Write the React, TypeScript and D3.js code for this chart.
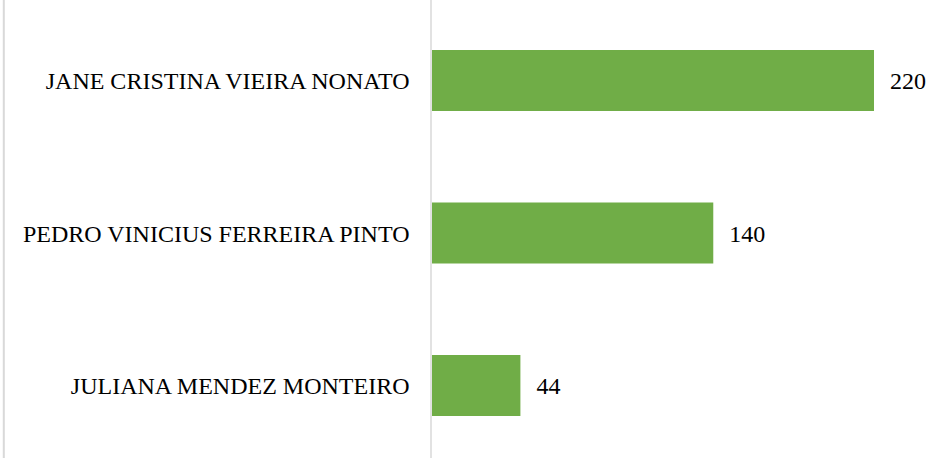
import React from "react";
import * as d3 from "d3";

const categories = [
  "JANE CRISTINA VIEIRA NONATO",
  "PEDRO VINICIUS FERREIRA PINTO",
  "JULIANA MENDEZ MONTEIRO",
];
const values = [220, 140, 44];

const W = 951;
const H = 458;

export default function App() {
  const x = d3.scaleLinear().domain([0, 220]).range([432, 874]);
  const y = d3
    .scaleBand<string>()
    .domain(categories)
    .range([4.25, 461.75])
    .paddingInner(0.6)
    .paddingOuter(0.3);
  const font = '"Liberation Serif", "DejaVu Serif", serif';
  const fs = 24;
  return (
    <svg
      width={W}
      height={H}
      style={{ position: "absolute", left: 0, top: 0 }}
    >
      <rect x={0} y={0} width={W} height={H} fill="#ffffff" />
      <line x1={3.8} x2={3.8} y1={0} y2={H} stroke="#d9d9d9" strokeWidth={2} />
      {categories.map((c, i) => {
        const yy = y(c) as number;
        const bw = y.bandwidth();
        return (
          <g key={c}>
            <rect
              x={x(0)}
              y={yy}
              width={x(values[i]) - x(0)}
              height={bw}
              fill="#70ad47"
            />
            <text
              x={409.5}
              y={yy + bw / 2}
              dy="0.36em"
              textAnchor="end"
              style={{ fontFamily: font, fontSize: fs }}
              fill="#000"
            >
              {c}
            </text>
            <text
              x={x(values[i]) + 16}
              y={yy + bw / 2}
              dy="0.36em"
              textAnchor="start"
              style={{ fontFamily: font, fontSize: fs }}
              fill="#000"
            >
              {values[i]}
            </text>
          </g>
        );
      })}
      <line x1={431} x2={431} y1={0} y2={H} stroke="#d9d9d9" strokeWidth={1.5} />
    </svg>
  );
}
